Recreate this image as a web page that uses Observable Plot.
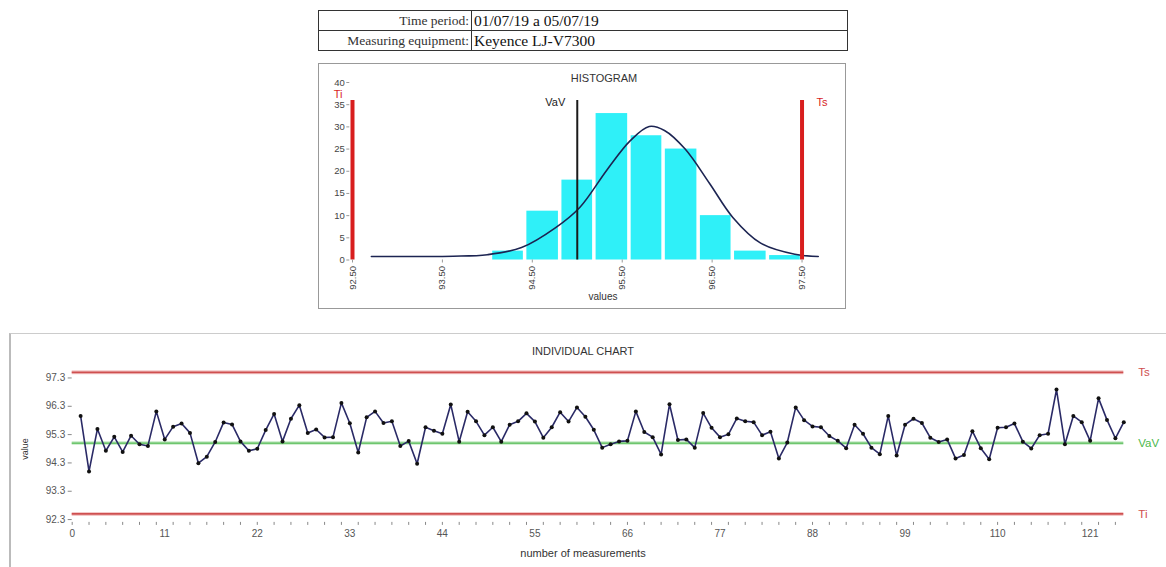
<!DOCTYPE html>
<html>
<head>
<meta charset="utf-8">
<script src="https://cdn.jsdelivr.net/npm/d3@7"></script>
<script src="https://cdn.jsdelivr.net/npm/@observablehq/plot@0.6"></script>
<style>
  html, body { margin: 0; padding: 0; background: #fff; }
  #page { position: relative; width: 1166px; height: 567px; overflow: hidden; background: #fff; font-family: "Liberation Sans", Arial, sans-serif; }
  .abs { position: absolute; }
  #info { left: 318px; top: 10px; width: 530px; border-collapse: collapse; table-layout: fixed; font-family: "Liberation Serif", "Times New Roman", serif; border: 1.5px solid #222; }
  #info td { border: 1px solid #333; height: 19px; padding: 0 2px; line-height: 19px; white-space: nowrap; overflow: hidden; }
  #info td.k { text-align: right; width: 148px; font-size: 13.5px; color: #333; }
  #info td.v { text-align: left; font-size: 15.5px; color: #111; }
  #hist-panel { left: 318px; top: 63px; width: 528px; height: 246px; border: 1px solid #999; box-sizing: border-box; }
  #ind-panel { left: 9px; top: 333px; width: 1160px; height: 240px; border-left: 2px solid #bbb; border-top: 1px solid #ccc; box-sizing: border-box; }
  .lbl { position: absolute; transform: translate(-50%, -50%); white-space: nowrap; color: #333; }
</style>
</head>
<body>
<div id="page">
  <table id="info" class="abs">
    <tr><td class="k">Time period:</td><td class="v">01/07/19 a 05/07/19</td></tr>
    <tr><td class="k">Measuring equipment:</td><td class="v">Keyence LJ-V7300</td></tr>
  </table>
  <div id="hist-panel" class="abs"></div>
  <div id="ind-panel" class="abs"></div>
  <div id="hist" class="abs" style="left:319px; top:64px;"></div>
  <div id="ind" class="abs" style="left:10px; top:334px;"></div>
  <div class="lbl" style="left:604px; top:78px; font-size:11px;">HISTOGRAM</div>
  <div class="lbl" style="left:603px; top:296px; font-size:10px;">values</div>
  <div class="lbl" style="left:583px; top:351px; font-size:11px;">INDIVIDUAL CHART</div>
  <div class="lbl" style="left:583px; top:553px; font-size:11px;">number of measurements</div>
  <div class="lbl" style="left:25px; top:449px; font-size:9px; transform: translate(-50%, -50%) rotate(-90deg);">value</div>
</div>
<script>
// ---------- data ----------
const limitNames  = ["Ti", "VaV", "Ts"];
const limitValues = [92.5, 95.0, 97.5];

// histogram bins (edges) and counts
const histBinEdges = [94.04, 94.42, 94.81, 95.19, 95.58, 95.96, 96.35, 96.73, 97.12, 97.5];
const histCounts   = [2, 11, 18, 33, 28, 25, 10, 2, 1];
const histXTicks   = [92.5, 93.5, 94.5, 95.5, 96.5, 97.5];
const histYTicks   = [0, 5, 10, 15, 20, 25, 30, 35, 40];

// fitted curve as drawn
const curveX = [92.71, 93.2, 93.62, 94.0, 94.38, 94.76, 95.03, 95.33, 95.59, 95.8, 95.97, 96.2, 96.47, 96.73, 97.04, 97.42, 97.68];
const curveY = [0.8, 0.8, 0.85, 1.2, 2.8, 7.3, 11.9, 20.3, 26.9, 30.1, 29.2, 25.0, 17.3, 9.6, 3.8, 1.3, 0.8];

// individual chart
const measurements = [
  95.96, 94.00, 95.50, 94.73, 95.22, 94.69, 95.26, 94.96, 94.90, 96.12,
  95.13, 95.58, 95.69, 95.36, 94.29, 94.52, 95.04, 95.73, 95.66, 95.06,
  94.73, 94.80, 95.46, 96.03, 95.06, 95.86, 96.34, 95.36, 95.48, 95.20,
  95.21, 96.42, 95.70, 94.67, 95.91, 96.12, 95.71, 95.77, 94.90, 95.07,
  94.27, 95.56, 95.44, 95.33, 96.36, 95.05, 96.11, 95.77, 95.28, 95.56,
  95.05, 95.65, 95.77, 96.05, 95.76, 95.19, 95.56, 96.09, 95.76, 96.26,
  95.93, 95.47, 94.84, 94.96, 95.06, 95.08, 96.12, 95.39, 95.21, 94.60,
  96.37, 95.11, 95.13, 94.84, 96.06, 95.54, 95.21, 95.31, 95.87, 95.77,
  95.74, 95.28, 95.40, 94.46, 95.02, 96.26, 95.81, 95.59, 95.56, 95.25,
  95.08, 94.82, 95.65, 95.33, 94.84, 94.61, 95.96, 94.56, 95.65, 95.86,
  95.71, 95.19, 95.04, 95.13, 94.46, 94.58, 95.42, 94.82, 94.43, 95.54,
  95.56, 95.69, 95.05, 94.81, 95.28, 95.33, 96.89, 94.96, 95.96, 95.74,
  95.08, 96.58, 95.82, 95.17, 95.74
];
const indXTickLabels = [0, 11, 22, 33, 44, 55, 66, 77, 88, 99, 110, 121];
const indYTicks = [92.3, 93.3, 94.3, 95.3, 96.3, 97.3];

// ---------- styles ----------
const histLimitColor = {Ti: "#d81e1e", VaV: "#1a1a1a", Ts: "#d81e1e"};
const histLimitWidth = {Ti: 4, VaV: 2, Ts: 4};
const indLimitColor  = {Ti: "#cf5050", VaV: "#4cb84c", Ts: "#cf5050"};
const indLimitHalo   = {Ti: "#f3c9c9", VaV: "#d3efd3", Ts: "#f3c9c9"};

// ---------- tables built from arrays ----------
const limits = limitNames.map((name, i) => ({name, value: limitValues[i]}));
const bins = histCounts.map((count, i) => ({x1: histBinEdges[i], x2: histBinEdges[i + 1], count}));
const curve = curveX.map((x, i) => ({x, y: curveY[i]}));
const points = measurements.map((v, i) => ({n: i + 1, v}));
const byName = n => limits.filter(d => d.name === n);

// ---------- histogram ----------
const histLabel = (name, dx, dy, anchor) => Plot.text(byName(name), {
  x: "value", text: "name", frameAnchor: "top", lineAnchor: "middle", dy, dx, textAnchor: anchor,
  fill: histLimitColor[name], fontSize: 11
});
const hist = Plot.plot({
  width: 526, height: 244,
  marginLeft: 30.3, marginRight: 10.2, marginTop: 18, marginBottom: 48.5,
  x: {domain: [92.47, 97.87]},
  y: {domain: [0, 40]},
  color: {type: "identity"},
  style: {fontFamily: "Liberation Sans, Arial, sans-serif", fontSize: "9.5px", color: "#444", background: "transparent", overflow: "visible"},
  marks: [
    Plot.rectY(bins, {x1: "x1", x2: "x2", y: "count", fill: "#2ff0f8", insetLeft: 1.75, insetRight: 1.75}),
    Plot.line(curve, {x: "x", y: "y", stroke: "#1c2452", strokeWidth: 1.6, curve: "catmull-rom"}),
    Plot.ruleX(limits, {x: "value", stroke: d => histLimitColor[d.name], strokeWidth: d => histLimitWidth[d.name], insetTop: 18}),
    histLabel("Ti", -10, 11.5, "end"),
    histLabel("VaV", -12, 20, "end"),
    histLabel("Ts", 14.5, 20, "start"),
    Plot.axisY({ticks: histYTicks, tickSize: 3, tickPadding: 2, line: true, stroke: "#999", label: null}),
    Plot.axisX({ticks: histXTicks, tickFormat: d3.format(".2f"), tickRotate: -90, tickSize: 3, tickPadding: 3, line: true, stroke: "#999", label: null})
  ]
});
document.getElementById("hist").appendChild(hist);

// ---------- individual chart ----------
const ind = Plot.plot({
  width: 1156, height: 233,
  marginLeft: 61.7, marginRight: 42.7, marginTop: 29.3, marginBottom: 45.1,
  x: {domain: [0, 125]},
  y: {domain: [92.2, 97.8]},
  color: {type: "identity"},
  style: {fontFamily: "Liberation Sans, Arial, sans-serif", fontSize: "10px", color: "#555", background: "transparent", overflow: "visible"},
  marks: [
    Plot.ruleY(limits, {y: "value", stroke: d => indLimitHalo[d.name], strokeWidth: 4}),
    Plot.ruleY(limits, {y: "value", stroke: d => indLimitColor[d.name], strokeWidth: d => d.name === "VaV" ? 1.3 : 1.8}),
    Plot.text(limits, {y: "value", text: "name", frameAnchor: "right", dx: 14.5, textAnchor: "start",
      fill: d => indLimitColor[d.name], fontSize: 11.5}),
    Plot.axisY({ticks: indYTicks, tickFormat: d => d.toFixed(1), tickSize: 4, tickPadding: 3, line: true, stroke: "#888", label: null}),
    Plot.axisX({ticks: d3.range(0, 126, 2), tickFormat: () => "", tickSize: 3, line: true, stroke: "#888", label: null}),
    Plot.axisX({ticks: indXTickLabels, tickSize: 0, tickPadding: 7, label: null}),
    Plot.line(points, {x: "n", y: "v", stroke: "#2a2a66", strokeWidth: 1.6}),
    Plot.dot(points, {x: "n", y: "v", r: 2, fill: "#111", stroke: "none"})
  ]
});
document.getElementById("ind").appendChild(ind);
</script>
</body>
</html>
